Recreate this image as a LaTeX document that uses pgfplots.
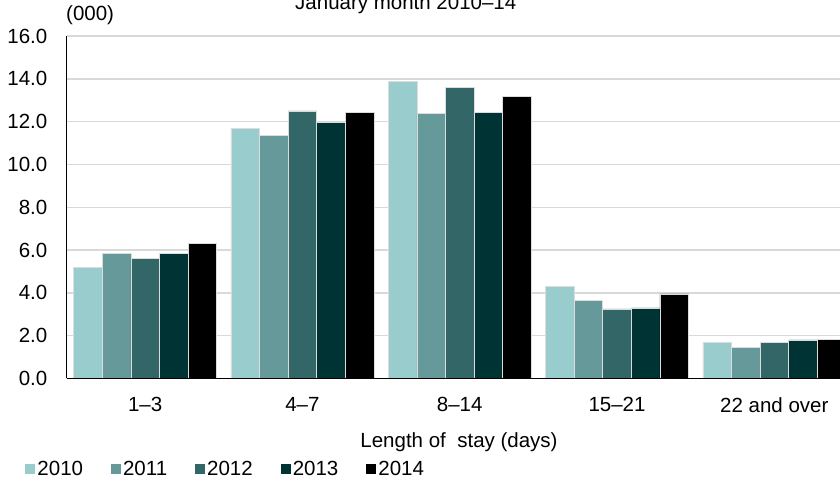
\documentclass[border=0pt]{standalone}
\usepackage{pgfplots}
\pgfplotsset{compat=1.18}
\usepackage{fontspec}
\setmainfont{Liberation Sans}
\definecolor{c1}{HTML}{99CCCC}
\definecolor{c2}{HTML}{669999}
\definecolor{c3}{HTML}{336666}
\definecolor{c4}{HTML}{003333}
\definecolor{c5}{HTML}{000000}
\definecolor{gridc}{HTML}{D9D9D9}
\definecolor{edgec}{HTML}{DCDCDC}
\newcommand{\fs}{\fontsize{20.5pt}{24pt}\selectfont}
\begin{document}
\begin{tikzpicture}
\useasboundingbox (0pt,0pt) rectangle (840pt,481pt);
\begin{axis}[
  at={(66.5pt,102.5pt)}, anchor=south west,
  x=157.3pt, y=21.4pt,
  xmin=-0.5, xmax=4.5, ymin=0, ymax=16,
  axis lines*=left,
  axis line style={black, line width=1.6pt},
  ybar=0pt, bar width=28.6pt,
  ymajorgrids, grid style={gridc, line width=1.3pt},
  major tick length=0pt,
  ytick={0,2,...,16},
  /pgf/number format/fixed, /pgf/number format/fixed zerofill,
  /pgf/number format/precision=1, /pgf/number format/assume math mode=true,
  y tick label style={font=\fs, anchor=east, inner sep=0pt, xshift=-19pt},
  xtick={0,1,2,3,4},
  xticklabels={1--3,4--7,8--14,15--21,22 and over},
  x tick label style={font=\fs, anchor=north, inner sep=0pt, yshift=-18.5pt},
  legend columns=-1,
  legend image code/.code={\fill[#1,draw=none] (0pt,-5pt) rectangle (10pt,5pt);},
  legend style={at={(axis cs:-0.7607,-4.229)}, anchor=west, draw=none, fill=none,
    inner sep=0pt, outer sep=0pt, font=\fs,
    nodes={inner sep=1pt},
    /tikz/every odd column/.append style={column sep=1pt},
    /tikz/every even column/.append style={column sep=27pt}},
  every axis plot/.append style={draw=edgec, line width=0.6pt},
  clip=false,
]
\addplot[fill=c1] coordinates {(0,5.2) (1,11.7) (2,13.9) (3,4.3) (4,1.7)};
\addplot[fill=c2] coordinates {(0,5.85) (1,11.35) (2,12.4) (3,3.65) (4,1.45)};
\addplot[fill=c3] coordinates {(0,5.6) (1,12.5) (2,13.6) (3,3.25) (4,1.7)};
\addplot[fill=c4] coordinates {(0,5.85) (1,11.95) (2,12.45) (3,3.3) (4,1.8)};
\addplot[fill=c5] coordinates {(0,6.3) (1,12.45) (2,13.2) (3,3.95) (4,1.82)};
\legend{2010,2011,2012,2013,2014}
\draw[black, line width=1.6pt] (axis cs:-0.5,0) -- (axis cs:4.5,0);
\end{axis}
\node[anchor=base west, inner sep=0pt, font=\fs] at (295pt,471pt) {January month 2010--14};
\node[anchor=base west, inner sep=0pt, font=\fs] at (66pt,460.5pt) {(000)};
\node[anchor=base, inner sep=0pt, font=\fs] at (459pt,33pt) {Length of\ \ stay (days)};
\end{tikzpicture}
\end{document}
